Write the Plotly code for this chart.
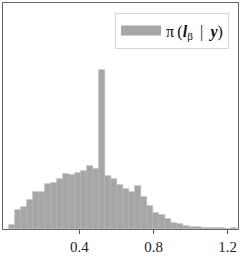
import plotly.graph_objects as go

# Histogram data (density per bin)
bin_start = 0.0198
bin_width = 0.0324
density = [0.11, 0.49, 0.58, 0.76, 0.98, 0.97, 1.18, 1.20, 1.32, 1.44,
           1.41, 1.48, 1.51, 1.65, 1.58, 4.16, 1.40, 1.30, 1.15, 1.06,
           0.96, 1.13, 0.83, 0.60, 0.42, 0.36, 0.25, 0.15, 0.14, 0.07,
           0.06, 0.04, 0.03, 0.025, 0.017, 0.017, 0.008, 0.017]
tick_vals = [0.4, 0.8, 1.2]
tick_text = ["0.4", "0.8", "1.2"]
label = "π\u2009(<b><i>l</i></b><sub>β</sub>\u2009 | \u2009<b><i>y</i></b>)"

centers = [bin_start + bin_width * (i + 0.5) for i in range(len(density))]

bar_color = "#a6a6a6"
fig = go.Figure()
fig.add_trace(go.Bar(
    x=centers, y=density, width=bin_width,
    marker=dict(color=bar_color, line=dict(color="#b2b2b2", width=0.6)),
    showlegend=False,
))
fig.add_trace(go.Scatter(
    x=[None], y=[None], mode="lines",
    line=dict(color=bar_color, width=11),
    name=label, showlegend=True,
))

fig.update_layout(
    width=241, height=257,
    margin=dict(l=3, r=3, t=2, b=22),
    plot_bgcolor="white", paper_bgcolor="white",
    bargap=0,
    font=dict(family="Liberation Serif", size=15, color="#222222"),
    legend=dict(
        x=0.962, y=0.957, xanchor="right", yanchor="top",
        bordercolor="#d6d6d6", borderwidth=1, bgcolor="white",
        font=dict(family="Liberation Serif", size=16, color="#111111"),
        itemwidth=40,
    ),
    xaxis=dict(
        range=[-0.0126, 1.256],
        tickvals=tick_vals, ticktext=tick_text,
        ticks="outside", ticklen=3.5, tickcolor="#555555", tickwidth=1,
        ticklabelstandoff=0,
        tickfont=dict(family="Liberation Serif", size=15, color="#222222"),
        showgrid=False, zeroline=False,
        showline=True, mirror=True, linecolor="#666666", linewidth=1,
    ),
    yaxis=dict(
        range=[0, 5.93],
        showticklabels=False, ticks="",
        showgrid=False, zeroline=False,
        showline=True, mirror=True, linecolor="#666666", linewidth=1,
    ),
)

fig.write_html("out.html", config={"displayModeBar": False},
               post_script="document.body.style.margin='0';")
